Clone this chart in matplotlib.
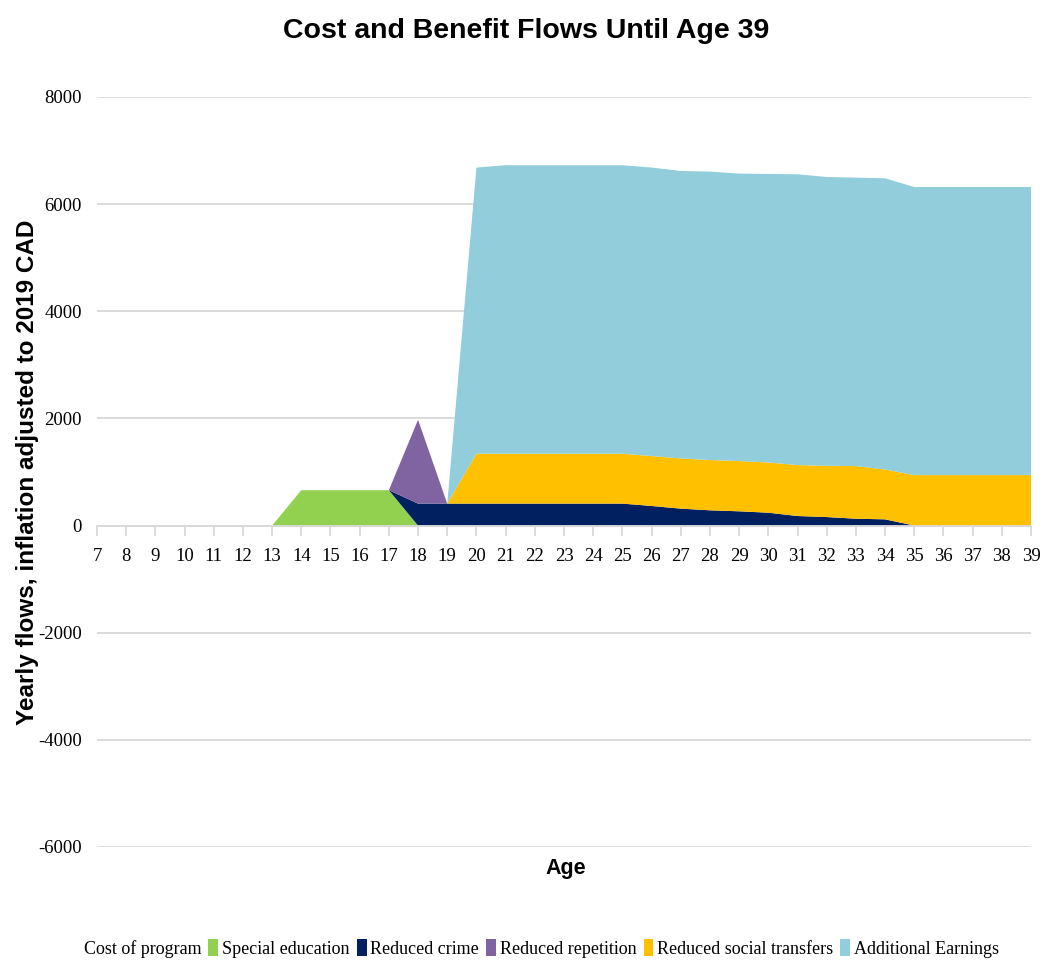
import matplotlib
matplotlib.use("Agg")
import matplotlib.pyplot as plt
from matplotlib.patches import Patch

plt.rcParams["axes.unicode_minus"] = False

ages = list(range(7, 40))

# yearly flows per component (2019 CAD), ages 7..39
cost_program = [0] * 33
special_education = [0] * 7 + [660, 660, 660, 660] + [0] * 22
reduced_crime = [0] * 11 + [410] * 8 + [366, 316, 285, 266, 240, 178, 159,
                                        128, 116] + [0] * 5
reduced_repetition = [0] * 11 + [1564] + [0] * 21
reduced_social_transfers = [0] * 13 + [931] * 6 + [932, 937, 938, 938, 938,
                                                   951, 957, 982, 931] + [942] * 5
additional_earnings = [0] * 13 + [5342] + [5385] * 5 + [5385, 5366, 5384, 5366,
                                                         5385, 5428, 5391, 5385,
                                                         5435] + [5377] * 5

labels = ["Cost of program", "Special education", "Reduced crime",
          "Reduced repetition", "Reduced social transfers", "Additional Earnings"]
colors = ["none", "#92D050", "#002060", "#8064A2", "#FFC000", "#92CDDC"]

fig = plt.figure(figsize=(10.46, 9.67), dpi=100)
ax = fig.add_axes([0.0927, 0.1241, 0.893, 0.7756])

ax.stackplot(ages, cost_program, special_education, reduced_crime,
             reduced_repetition, reduced_social_transfers, additional_earnings,
             colors=colors, linewidth=0)

ax.set_xlim(7, 39)
ax.set_ylim(-6000, 8000)
ax.set_yticks(range(-6000, 8001, 2000))
ax.set_xticks(ages)
ax.grid(axis="y", color="#D9D9D9", linewidth=1.3)
ax.set_axisbelow(True)

for side in ["left", "right", "top"]:
    ax.spines[side].set_visible(False)
ax.spines["bottom"].set_position(("data", 0))
ax.spines["bottom"].set_color("#D9D9D9")
ax.spines["bottom"].set_linewidth(1.3)

ax.tick_params(axis="x", direction="out", length=7, width=1.3, color="#D9D9D9",
               pad=9)
ax.tick_params(axis="y", length=0, pad=11)
for lab in ax.get_xticklabels() + ax.get_yticklabels():
    lab.set_fontfamily("Liberation Serif")
    lab.set_fontsize(13.5)

ax.set_ylabel("Yearly flows, inflation adjusted to 2019 CAD",
              fontfamily="Liberation Sans", fontweight="bold", fontsize=17.5)
ax.yaxis.set_label_coords(-0.062, 0.5)

fig.text(0.541, 0.102, "Age", ha="center", va="center",
         family="Liberation Sans", fontweight="bold", fontsize=15.5)
fig.text(0.503, 0.968, "Cost and Benefit Flows Until Age 39", ha="center",
         va="center", family="Liberation Sans", fontweight="bold", fontsize=20.5)

handles = [Patch(facecolor=c, edgecolor="none") for c in colors]
fig.legend(handles, labels, loc="center", bbox_to_anchor=(0.511, 0.019),
           ncol=6, frameon=False, handlelength=0.55, handleheight=1.0,
           handletextpad=0.2, columnspacing=0.4,
           prop={"family": "Liberation Serif", "size": 13})

fig.savefig("out.png", dpi=100)
